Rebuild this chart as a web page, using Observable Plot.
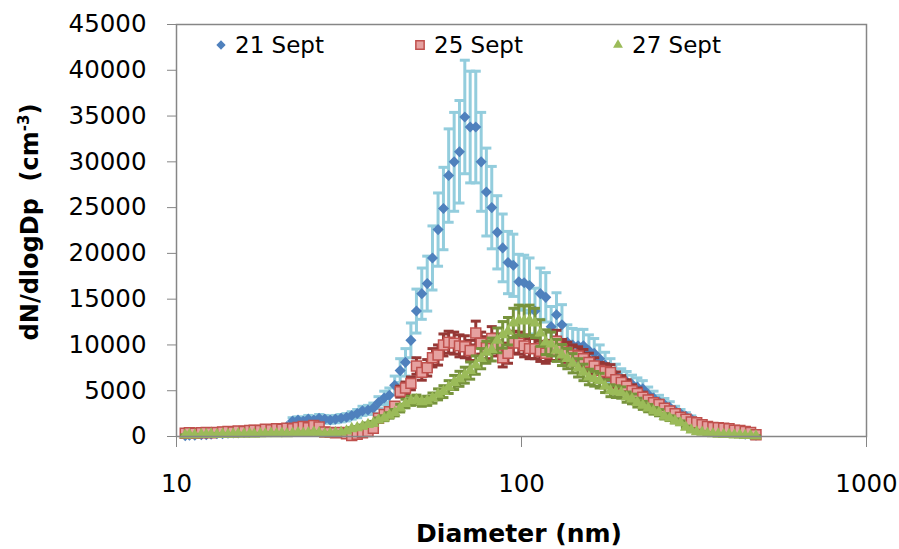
<!DOCTYPE html>
<html><head><meta charset="utf-8">
<script src="https://cdn.jsdelivr.net/npm/d3@7"></script>
<script src="https://cdn.jsdelivr.net/npm/@observablehq/plot@0.6"></script>
<style>
body{margin:0;background:#fff}
svg{display:block}
svg g[aria-label^="x-axis"] line, svg g[aria-label^="y-axis"] line,
svg g[aria-label="x-axis tick"] path, svg g[aria-label="y-axis tick"] path{stroke:#868686}
</style>
</head><body><div id="chart"></div>
<script>
// Particle diameter (nm), SMPS channels
const diameters = [
10.6,10.9,11.3,11.8,12.2,12.6,13.1,13.6,14.1,14.6,
15.1,15.7,16.3,16.8,17.5,18.1,18.8,19.5,20.2,20.9,
21.7,22.5,23.3,24.1,25.0,25.9,26.9,27.9,28.9,30.0,
31.1,32.2,33.4,34.6,35.9,37.2,38.5,40.0,41.4,42.9,
44.5,46.1,47.8,49.6,51.4,53.3,55.2,57.3,59.4,61.5,
63.8,66.1,68.5,71.0,73.7,76.4,79.1,82.0,85.1,88.2,
91.4,94.7,98.2,101.8,105.5,109.4,113.4,117.6,121.9,126.3,
131.0,135.8,140.7,145.9,151.2,156.8,162.5,168.5,174.7,181.1,
187.7,194.6,201.7,209.1,216.7,224.7,232.9,241.4,250.3,259.5,
269.0,278.8,289.0,299.6,310.6,322.0,333.8,346.0,358.7,371.8,
385.4,399.5,414.2,429.4,445.1,461.4,478.3];

// 21 Sept dN/dlogDp and error
const sept21 = [
100,150,150,200,200,250,300,300,350,400,
400,450,500,550,600,700,750,800,900,1100,
1700,1800,1700,1900,1800,2000,1900,1800,1900,2000,
2100,2300,2500,2800,2900,3100,3700,4200,4500,5600,
7200,8100,10500,13700,15600,16700,19500,22600,24900,28500,
30000,31100,34900,33800,33800,30000,26700,25000,22300,20600,
19000,18700,16900,16800,16500,13700,15600,15200,12000,13300,
12200,10300,10000,9900,9900,9400,9100,8500,7800,7200,
6700,6300,6000,5700,5400,5200,4600,4200,3800,3500,
3200,2800,2500,2200,1900,1600,1300,1100,900,750,
600,500,400,300,250,200,150];
const sept21Err = [
20,30,30,40,40,50,50,50,60,70,
70,80,90,100,110,130,140,150,160,200,
350,350,350,400,350,400,400,350,400,400,
400,400,450,500,500,550,650,750,800,1000,
1300,1500,1900,2400,2800,3000,3500,4000,4500,5100,
5400,5600,6200,6100,6100,5400,4800,4500,4000,3700,
3400,3400,3000,3000,3000,2500,2800,2700,2200,2400,
2200,1900,1800,1800,1800,1700,1600,1500,1400,1300,
1200,1100,1100,1000,1000,900,800,750,700,650,
600,500,450,400,350,300,250,200,160,140,
110,90,70,60,50,40,30];

// 25 Sept
const sept25 = [
350,400,350,400,450,400,450,500,550,500,
600,550,650,700,650,800,750,850,800,900,
850,1000,1100,950,1200,1050,500,450,400,450,
300,100,250,400,550,900,2000,2400,2700,3300,
4900,5300,5800,7700,7000,7500,8600,8900,10000,10300,
10200,9900,9800,9400,11300,10200,9700,10700,10000,8600,
9100,10300,10200,9900,9600,9600,9300,9100,9400,10400,
9500,9200,8900,8800,8500,8100,7700,7200,7100,7000,
6200,5900,5500,5000,4700,4300,4000,3700,3500,3100,
2800,2500,2100,1900,1600,1500,1300,1100,1000,950,
900,850,700,650,550,450,200];
const sept25Err = [
50,50,50,50,60,50,60,60,70,60,
70,70,80,80,80,100,90,100,100,110,
100,120,130,110,150,130,60,60,50,60,
40,20,30,50,70,110,240,290,320,400,
600,650,700,900,850,900,1000,1100,1200,1200,
1200,1200,1200,1100,1300,1200,1200,1300,1200,1000,
1100,1200,1200,1200,1100,1100,1100,1100,1100,1200,
1100,1100,1100,1000,1000,1000,900,900,850,850,
850,750,700,650,600,550,500,450,450,400,
350,300,250,250,200,200,150,130,120,110,
110,100,80,80,70,50,30];

// 27 Sept
const sept27 = [
150,200,150,200,200,250,200,250,200,250,
300,250,300,250,300,300,350,300,350,300,
350,400,350,400,450,400,300,350,400,450,
600,850,950,1100,1300,1450,1800,2000,2300,2600,
3100,3600,3900,4000,3800,3900,4200,4600,4900,5400,
5900,6300,6700,7200,7800,8500,9200,9500,10500,11100,
11500,12400,12700,12600,12700,12400,11300,10300,10100,9400,
8900,8500,8000,7500,7000,6500,6300,6100,5500,5000,
4900,4800,4300,4100,3700,3400,3100,2800,2600,2200,
2000,1700,1500,1000,700,500,450,350,300,250,
200,200,150,150,100,100,50];
const sept27Err = [
30,30,30,30,30,40,30,40,30,40,
40,40,40,40,40,40,50,40,50,40,
50,60,50,60,60,60,40,50,60,60,
80,110,130,150,180,200,230,270,300,350,
420,470,500,520,500,500,550,600,650,700,
770,820,870,940,1000,1100,1200,1250,1350,1450,
1500,1600,1650,1650,1650,1600,1450,1350,1300,1200,
1150,1100,1050,1000,900,850,800,800,700,650,
640,620,560,530,480,440,400,360,340,290,
260,220,200,130,90,70,60,50,40,30,
30,30,20,20,15,15,10];

const seriesNames = ["21 Sept", "25 Sept", "27 Sept"];
const xTicks = [10, 100, 1000];
const yTicks = [0, 5000, 10000, 15000, 20000, 25000, 30000, 35000, 40000, 45000];

function rows(vals, errs, name) {
  return diameters.map((d, i) => ({d, v: vals[i], lo: vals[i] - errs[i], hi: vals[i] + errs[i], name}));
}
const s21 = rows(sept21, sept21Err, seriesNames[0]);
const s25 = rows(sept25, sept25Err, seriesNames[1]);
const s27 = rows(sept27, sept27Err, seriesNames[2]);

const cap = {draw(ctx, size) { const w = Math.sqrt(size / Math.PI); ctx.moveTo(-w, 0); ctx.lineTo(w, 0); }};

const styles = [
  {bar: "#93CDDD", fill: "#4F81BD", stroke: "none", symbol: "diamond2", r: 5.0, sw: 0},
  {bar: "#953735", fill: "#E6A1A0", stroke: "#C0504D", symbol: "square", r: 5.6, sw: 1.5},
  {bar: "#77933C", fill: "#9BBB59", stroke: "none", symbol: "triangle", r: 4.4, sw: 0}
];

function seriesMarks(data, st) {
  return [
    Plot.ruleX(data, {x: "d", y1: "lo", y2: "hi", stroke: st.bar, strokeWidth: 3}),
    Plot.dot(data, {x: "d", y: "hi", symbol: cap, r: 5, stroke: st.bar, strokeWidth: 3, fill: "none"}),
    Plot.dot(data, {x: "d", y: "lo", symbol: cap, r: 5, stroke: st.bar, strokeWidth: 3, fill: "none"}),
    Plot.dot(data, {x: "d", y: "v", symbol: st.symbol, r: st.r, fill: st.fill, stroke: st.stroke, strokeWidth: st.sw})
  ];
}

const W = 899, H = 549, mL = 176, mR = 33, mT = 24, mB = 113;

const chart = Plot.plot({
  width: W, height: H,
  marginLeft: mL, marginRight: mR, marginTop: mT, marginBottom: mB,
  style: {fontFamily: "DejaVu Sans", fontSize: "24.5px", color: "#000", background: "#fff", overflow: "visible"},
  x: {type: "log", domain: [10, 1000], ticks: xTicks, tickFormat: d => String(d), label: null, tickSize: 11, tickPadding: 27},
  y: {domain: [0, 45000], ticks: yTicks, tickFormat: d => String(d), label: null, tickSize: 9, tickPadding: 21},
  marks: [
    ...seriesMarks(s21, styles[0]),
    ...seriesMarks(s25, styles[1]),
    ...seriesMarks(s27, styles[2]),
    Plot.frame({stroke: "#868686", strokeWidth: 1.5})
  ]
});
document.getElementById("chart").appendChild(chart);

const svg = d3.select(chart);
// Axis titles
svg.append("text")
  .attr("x", (mL + W - mR) / 2 - 2).attr("y", 542)
  .attr("text-anchor", "middle")
  .attr("font-family", "DejaVu Sans").attr("font-weight", "bold").attr("font-size", 25)
  .attr("fill", "#000")
  .text("Diameter (nm)");
const yl = svg.append("text")
  .attr("transform", `translate(38,${(mT + H - mB) / 2 - 8}) rotate(-90)`)
  .attr("text-anchor", "middle")
  .attr("font-family", "DejaVu Sans").attr("font-weight", "bold").attr("font-size", 24)
  .attr("fill", "#000");
yl.append("tspan").text("dN/dlogDp  (cm");
yl.append("tspan").attr("dy", -9).attr("font-size", 15).text("-3");
yl.append("tspan").attr("dy", 9).text(")");

// Legend
const legendX = [221, 420, 618];
const lg = svg.append("g");
seriesNames.forEach((name, i) => {
  const st = styles[i];
  const symType = {diamond2: d3.symbolDiamond2, square: d3.symbolSquare, triangle: d3.symbolTriangle}[st.symbol];
  lg.append("path")
    .attr("transform", `translate(${legendX[i]},45)`)
    .attr("d", d3.symbol(symType, Math.PI * st.r * st.r * 0.7)())
    .attr("fill", st.fill).attr("stroke", st.stroke).attr("stroke-width", st.sw);
  lg.append("text")
    .attr("x", legendX[i] + 14).attr("y", 53)
    .attr("text-anchor", "start")
    .attr("font-family", "DejaVu Sans").attr("font-size", 23).attr("fill", "#000")
    .text(name);
});
</script>
</body></html>
